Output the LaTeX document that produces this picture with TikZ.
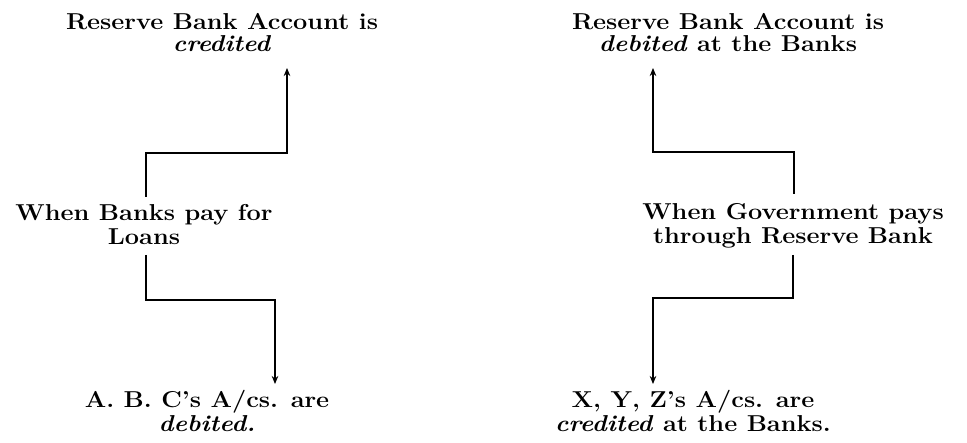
\documentclass[tikz,border=0pt]{standalone}
\usepackage{fontspec}
\usepackage{graphicx}
\usetikzlibrary{arrows.meta}
\newcommand{\xwd}[1]{\scalebox{1.1}[1]{#1}}
\begin{document}
\begin{tikzpicture}[x=1pt,y=-1pt,
  txt/.style={align=center,inner sep=0pt,anchor=base,font=\fontsize{23}{24.5}\selectfont\bfseries},
  ttl/.style={txt,font=\fontsize{23}{22}\selectfont\bfseries},
  arr/.style={line width=1.1pt,-{Stealth[length=8pt,width=6.5pt,inset=2.5pt]}}]
\useasboundingbox (0,0) rectangle (967,443);
% Left column
\node[ttl] (LT) at (222,52) {\xwd{Reserve Bank Account is}\\\xwd{\textit{credited}}};
\node[txt] (LM) at (144,245) {\xwd{When Banks pay for}\\\xwd{Loans}};
\node[txt] (LB) at (207,432) {\xwd{A. B. C's A/cs. are}\\\xwd{\textit{debited.}}};
% Right column
\node[ttl] (RT) at (728,52) {\xwd{Reserve Bank Account is}\\\xwd{\textit{debited} at the Banks}};
\node[txt] (RM) at (793,244) {\xwd{When Government pays}\\\xwd{through Reserve Bank}};
\node[txt] (RB) at (693,432) {\xwd{X, Y, Z's A/cs. are}\\\xwd{\textit{credited} at the Banks.}};
% elbows
\coordinate (la) at (146,197);
\coordinate (lb) at (146,153);
\coordinate (lc) at (287,153);
\coordinate (ltip) at (287,68);
\coordinate (ld) at (146,255);
\coordinate (le) at (146,300);
\coordinate (lf) at (275,300);
\coordinate (lbtip) at (275,384);
\coordinate (ra) at (794,194);
\coordinate (rb) at (794,152);
\coordinate (rc) at (653,152);
\coordinate (rtip) at (653,68);
\coordinate (rd) at (793,255);
\coordinate (re) at (793,298);
\coordinate (rf) at (653,298);
\coordinate (rbtip) at (653,384);
\draw[arr] (la) -- (lb) -- (lc) -- (ltip);
\draw[arr] (ld) -- (le) -- (lf) -- (lbtip);
\draw[arr] (ra) -- (rb) -- (rc) -- (rtip);
\draw[arr] (rd) -- (re) -- (rf) -- (rbtip);
\end{tikzpicture}
\end{document}
